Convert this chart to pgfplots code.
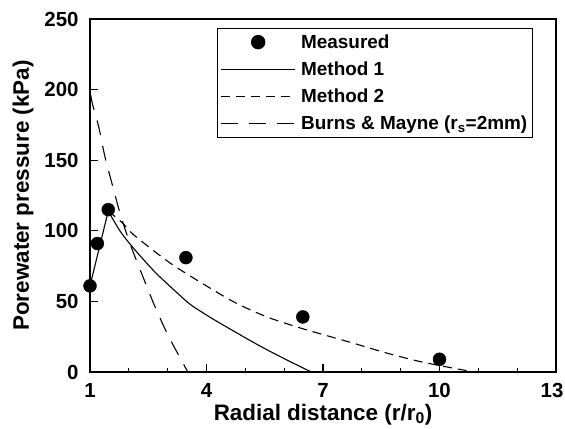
\documentclass[border=0pt]{standalone}
\usepackage{fontspec}
\setmainfont{Liberation Sans}
\usepackage{pgfplots}
\pgfplotsset{compat=1.18}
\begin{document}
\begin{tikzpicture}
\path[use as bounding box] (-90bp,-57bp) rectangle (475bp,372bp);
\begin{axis}[
  at={(0,0)}, anchor=south west,
  scale only axis, width=466bp, height=353bp,
  xmin=1, xmax=13, ymin=0, ymax=250,
  xtick={1,4,7,10}, ytick={0,50,100,150,200,250},
  extra x ticks={13},
  extra x tick style={xticklabel style={xshift=-4bp}},
  minor xtick={2,3,5,6,8,9,11,12},
  tick pos=left, tick align=inside,
  major tick length=8bp, minor tick length=4bp,
  every tick/.style={black, line width=1.3bp},
  axis line style={line width=1.6bp},
  /pgf/number format/assume math mode=true,
  ticklabel style={font=\bfseries\fontsize{20.5}{22}\selectfont},
  yticklabel style={xshift=-8bp},
  xticklabel style={yshift=-8bp},
  xlabel={Radial distance (r/r\textsubscript{0})},
  ylabel={Porewater pressure (kPa)},
  label style={font=\bfseries\fontsize{22.5}{25}\selectfont},
  xlabel style={yshift=1bp},
  ylabel style={yshift=4bp},
  legend cell align=left,
  legend style={at={(0.9506,0.975)}, anchor=north east,
    font=\bfseries\fontsize{19}{22}\selectfont,
    draw=black, line width=1.4bp, row sep=8bp, inner xsep=3bp, inner ysep=4bp},
]
\addplot[only marks, mark=*, mark size=6.5bp, black,
  legend image code/.code={\path[draw=none,fill=none] (0bp,0bp) -- (78bp,0bp);\fill[black] (37bp,0bp) circle (6.5bp);}]
  coordinates {(1,61) (1.19,91) (1.47,115) (3.47,81) (6.48,39) (10,9)};
\addlegendentry{Measured}
\addplot[black, line width=1.1bp, smooth,
  legend image code/.code={\path[draw=none,fill=none] (0bp,0bp) -- (78bp,0bp);\draw[black, line width=1bp] (0bp,0bp) -- (74bp,0bp);}]
  coordinates {(1.47,114) (1.77,100) (2.11,88) (2.63,72) (2.97,63) (3.53,49) (3.83,43.3) (4.21,36.8) (4.68,29.3) (5.11,22.5) (5.54,16) (6.1,8.1) (6.7,0)};
\addlegendentry{Method 1}
\addplot[black, line width=1.1bp, forget plot] coordinates {(1,61) (1.47,114)};
\addplot[black, line width=1.1bp, smooth, dash pattern=on 9bp off 6bp,
  legend image code/.code={\path[draw=none,fill=none] (0bp,0bp) -- (78bp,0bp);\draw[black, line width=1.1bp, dash pattern=on 9bp off 6bp] (0bp,0bp) -- (74bp,0bp);}]
  coordinates {(1.47,114) (1.86,105) (2.11,97.5) (2.97,79) (3.61,67.5) (4.68,50) (5.54,39.2) (6.4,31.3) (7.13,25.5) (7.77,20.5) (8.63,13.5) (9.48,7.5) (10.34,2.8) (10.9,0)};
\addlegendentry{Method 2}
\addplot[black, line width=1.1bp, smooth, dash pattern=on 15bp off 11bp,
  legend image code/.code={\path[draw=none,fill=none] (0bp,0bp) -- (78bp,0bp);\draw[black, line width=1.1bp, dash pattern=on 17bp off 11bp] (0bp,0bp) -- (74bp,0bp);}]
  coordinates {(1.02,196) (1.07,189) (1.23,173) (1.38,153) (1.59,131) (1.80,110) (2.07,88) (2.37,67) (2.67,46.5) (3.01,26) (3.40,6) (3.52,0)};
\addlegendentry{Burns \& Mayne (r\textsubscript{s}=2mm)}
\end{axis}
\end{tikzpicture}
\end{document}
